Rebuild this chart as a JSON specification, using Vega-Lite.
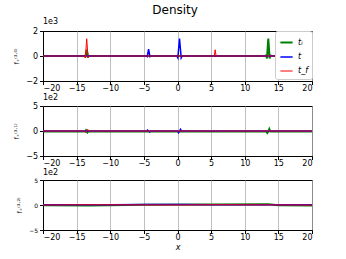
{
  "$schema": "https://vega.github.io/schema/vega-lite/v6.json",
  "padding": {"left": 13, "top": 3, "right": 20, "bottom": 0},
  "background": "white",
  "title": {"text": "Density", "fontSize": 12, "font": "DejaVu Sans", "fontWeight": "normal", "anchor": "middle", "dx": 12, "offset": 1, "color": "black"},
  "spacing": 0,
  "config": {
    "font": "DejaVu Sans",
    "view": {"stroke": "black", "strokeWidth": 1},
    "axis": {"domainColor": "black", "tickColor": "black", "tickSize": 3.5, "labelFontSize": 8, "labelColor": "black", "labelFont": "DejaVu Sans", "titleFont": "DejaVu Sans", "titleFontWeight": "normal", "titleColor": "black"},
    "axisX": {"grid": true, "gridColor": "#b0b0b0", "gridWidth": 0.8, "values": [-20, -15, -10, -5, 0, 5, 10, 15, 20], "labelPadding": 0},
    "axisY": {"grid": false, "titleFontSize": 6.5, "titlePadding": 6}
  },
  "datasets": {
    "p1": [
      {"x": -20, "y": 0, "s": "tᵢ"}, {"x": -13.9, "y": 0, "s": "tᵢ"}, {"x": -13.7, "y": -0.06, "s": "tᵢ"}, {"x": -13.5, "y": 0.5, "s": "tᵢ"}, {"x": -13.3, "y": -0.06, "s": "tᵢ"}, {"x": -13.1, "y": 0, "s": "tᵢ"},
      {"x": 13.0, "y": 0, "s": "tᵢ"}, {"x": 13.2, "y": 0.05, "s": "tᵢ"}, {"x": 13.3, "y": -0.2, "s": "tᵢ"}, {"x": 13.5, "y": 1.4, "s": "tᵢ"}, {"x": 13.7, "y": -0.2, "s": "tᵢ"}, {"x": 13.8, "y": 0.05, "s": "tᵢ"}, {"x": 14.0, "y": 0, "s": "tᵢ"}, {"x": 20, "y": 0, "s": "tᵢ"},
      {"x": -20, "y": 0, "s": "t"}, {"x": -4.7, "y": 0, "s": "t"}, {"x": -4.5, "y": -0.05, "s": "t"}, {"x": -4.3, "y": 0.55, "s": "t"}, {"x": -4.1, "y": -0.05, "s": "t"}, {"x": -3.9, "y": 0, "s": "t"},
      {"x": -0.1, "y": 0, "s": "t"}, {"x": 0.05, "y": -0.15, "s": "t"}, {"x": 0.3, "y": 1.4, "s": "t"}, {"x": 0.55, "y": -0.15, "s": "t"}, {"x": 0.7, "y": 0, "s": "t"}, {"x": 20, "y": 0, "s": "t"},
      {"x": -20, "y": 0, "s": "t_f"}, {"x": -13.9, "y": 0, "s": "t_f"}, {"x": -13.7, "y": -0.15, "s": "t_f"}, {"x": -13.5, "y": 1.38, "s": "t_f"}, {"x": -13.3, "y": -0.15, "s": "t_f"}, {"x": -13.1, "y": 0, "s": "t_f"},
      {"x": 5.3, "y": 0, "s": "t_f"}, {"x": 5.45, "y": -0.05, "s": "t_f"}, {"x": 5.6, "y": 0.5, "s": "t_f"}, {"x": 5.75, "y": -0.05, "s": "t_f"}, {"x": 5.9, "y": 0, "s": "t_f"}, {"x": 20, "y": 0, "s": "t_f"}
    ],
    "p2": [
      {"x": -20, "y": -0.1, "s": "tᵢ"}, {"x": -13.7, "y": -0.1, "s": "tᵢ"}, {"x": -13.6, "y": 0.15, "s": "tᵢ"}, {"x": -13.4, "y": -0.3, "s": "tᵢ"}, {"x": -13.3, "y": -0.1, "s": "tᵢ"},
      {"x": 13.2, "y": -0.1, "s": "tᵢ"}, {"x": 13.35, "y": -0.4, "s": "tᵢ"}, {"x": 13.5, "y": -0.1, "s": "tᵢ"}, {"x": 13.65, "y": 0.4, "s": "tᵢ"}, {"x": 13.8, "y": -0.1, "s": "tᵢ"}, {"x": 20, "y": -0.1, "s": "tᵢ"},
      {"x": -20, "y": 0, "s": "t"}, {"x": -4.6, "y": 0, "s": "t"}, {"x": -4.45, "y": 0.2, "s": "t"}, {"x": -4.15, "y": -0.2, "s": "t"}, {"x": -4.0, "y": 0, "s": "t"},
      {"x": 0.0, "y": 0, "s": "t"}, {"x": 0.15, "y": -0.35, "s": "t"}, {"x": 0.3, "y": 0, "s": "t"}, {"x": 0.45, "y": 0.35, "s": "t"}, {"x": 0.6, "y": 0, "s": "t"}, {"x": 20, "y": 0, "s": "t"},
      {"x": -20, "y": 0, "s": "t_f"}, {"x": -13.8, "y": 0, "s": "t_f"}, {"x": -13.65, "y": -0.3, "s": "t_f"}, {"x": -13.5, "y": 0, "s": "t_f"}, {"x": -13.35, "y": 0.35, "s": "t_f"}, {"x": -13.2, "y": 0, "s": "t_f"},
      {"x": 5.4, "y": 0, "s": "t_f"}, {"x": 5.5, "y": 0.2, "s": "t_f"}, {"x": 5.75, "y": -0.2, "s": "t_f"}, {"x": 5.9, "y": 0, "s": "t_f"}, {"x": 20, "y": 0, "s": "t_f"}
    ],
    "p3": [
      {"x": -20, "y": -0.05, "s": "tᵢ"}, {"x": -13, "y": -0.1, "s": "tᵢ"}, {"x": -5, "y": 0.05, "s": "tᵢ"}, {"x": 5, "y": 0.1, "s": "tᵢ"}, {"x": 13.5, "y": 0.15, "s": "tᵢ"}, {"x": 15, "y": -0.05, "s": "tᵢ"}, {"x": 20, "y": -0.1, "s": "tᵢ"},
      {"x": -20, "y": 0.05, "s": "t"}, {"x": -10, "y": 0.05, "s": "t"}, {"x": -4.3, "y": 0.1, "s": "t"}, {"x": 0.3, "y": 0.1, "s": "t"}, {"x": 5, "y": 0.05, "s": "t"}, {"x": 20, "y": 0.05, "s": "t"},
      {"x": -20, "y": 0, "s": "t_f"}, {"x": -13.5, "y": 0.05, "s": "t_f"}, {"x": 0, "y": 0, "s": "t_f"}, {"x": 5.6, "y": 0.05, "s": "t_f"}, {"x": 20, "y": 0, "s": "t_f"}
    ]
  },
  "vconcat": [
    {
      "width": 269, "height": 50,
      "title": {"text": "1e3", "anchor": "start", "frame": "group", "fontSize": 8, "fontWeight": "normal", "offset": 1, "color": "black"},
      "data": {"name": "p1"},
      "mark": {"type": "line", "clip": true},
      "encoding": {
        "x": {"field": "x", "type": "quantitative", "scale": {"domain": [-20, 20], "nice": false}, "axis": {"title": null}},
        "y": {"field": "y", "type": "quantitative", "scale": {"domain": [-2, 2], "nice": false}, "axis": {"title": "f₊⁽³·⁰⁾", "values": [-2, 0, 2]}},
        "color": {"field": "s", "type": "nominal", "scale": {"domain": ["tᵢ", "t", "t_f"], "range": ["#008000", "#0000ff", "#ff0000"]}, "legend": {"title": null, "orient": "top-right", "offset": 0, "padding": 4, "fillColor": "white", "strokeColor": "#cccccc", "cornerRadius": 2, "symbolType": "stroke", "symbolSize": 150, "labelFontSize": 8, "labelFontStyle": "italic", "rowPadding": 3, "labelColor": "black"}},
        "strokeWidth": {"field": "s", "type": "nominal", "scale": {"domain": ["tᵢ", "t", "t_f"], "range": [2, 1, 1]}, "legend": {"title": null, "orient": "top-right", "offset": 0, "padding": 4, "fillColor": "white", "strokeColor": "#cccccc", "cornerRadius": 2, "symbolType": "stroke", "symbolSize": 150, "labelFontSize": 8, "labelFontStyle": "italic", "rowPadding": 3, "labelColor": "black"}},
        "opacity": {"field": "s", "type": "nominal", "scale": {"domain": ["tᵢ", "t", "t_f"], "range": [1, 1, 0.55]}, "legend": {"title": null, "orient": "top-right", "offset": 0, "padding": 4, "fillColor": "white", "strokeColor": "#cccccc", "cornerRadius": 2, "symbolType": "stroke", "symbolSize": 150, "labelFontSize": 8, "labelFontStyle": "italic", "rowPadding": 3, "labelColor": "black"}}
      }
    },
    {
      "width": 269, "height": 50,
      "title": {"text": "1e2", "anchor": "start", "frame": "group", "fontSize": 8, "fontWeight": "normal", "offset": 0, "color": "black"},
      "data": {"name": "p2"},
      "mark": {"type": "line", "clip": true},
      "encoding": {
        "x": {"field": "x", "type": "quantitative", "scale": {"domain": [-20, 20], "nice": false}, "axis": {"title": null}},
        "y": {"field": "y", "type": "quantitative", "scale": {"domain": [-5, 5], "nice": false}, "axis": {"title": "f₊⁽³·¹⁾", "values": [-5, 0, 5]}},
        "color": {"field": "s", "type": "nominal", "scale": {"domain": ["tᵢ", "t", "t_f"], "range": ["#008000", "#0000ff", "#ff0000"]}, "legend": null},
        "strokeWidth": {"field": "s", "type": "nominal", "scale": {"domain": ["tᵢ", "t", "t_f"], "range": [2, 1, 1]}, "legend": null},
        "opacity": {"field": "s", "type": "nominal", "scale": {"domain": ["tᵢ", "t", "t_f"], "range": [1, 1, 0.55]}, "legend": null}
      }
    },
    {
      "width": 269, "height": 50,
      "title": {"text": "1e2", "anchor": "start", "frame": "group", "fontSize": 8, "fontWeight": "normal", "offset": 0, "color": "black"},
      "data": {"name": "p3"},
      "mark": {"type": "line", "clip": true},
      "encoding": {
        "x": {"field": "x", "type": "quantitative", "scale": {"domain": [-20, 20], "nice": false}, "axis": {"title": "x", "titleFontStyle": "italic", "titleFontSize": 8, "titlePadding": 2}},
        "y": {"field": "y", "type": "quantitative", "scale": {"domain": [-5, 5], "nice": false}, "axis": {"title": "f₊⁽³·²⁾", "values": [-5, 0, 5], "labelFontSize": 6}},
        "color": {"field": "s", "type": "nominal", "scale": {"domain": ["tᵢ", "t", "t_f"], "range": ["#008000", "#0000ff", "#ff0000"]}, "legend": null},
        "strokeWidth": {"field": "s", "type": "nominal", "scale": {"domain": ["tᵢ", "t", "t_f"], "range": [2, 1, 1]}, "legend": null},
        "opacity": {"field": "s", "type": "nominal", "scale": {"domain": ["tᵢ", "t", "t_f"], "range": [1, 1, 0.55]}, "legend": null}
      }
    }
  ]
}
